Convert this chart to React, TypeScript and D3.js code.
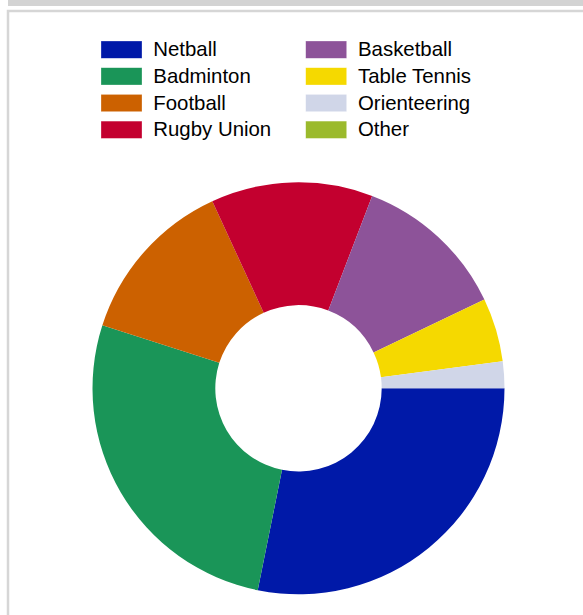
import React from "react";
import * as d3 from "d3";

const categories = ["Netball", "Badminton", "Football", "Rugby Union", "Basketball", "Table Tennis", "Orienteering", "Other"];
const values = [28.2, 26.8, 13.2, 12.7, 12.1, 5.0, 2.1, 0];
const colors = ["#0019a8", "#1a9558", "#cc6100", "#c3002f", "#8d5399", "#f5d900", "#d0d6e8", "#9bba2c"];

export default function App() {
  const W = 583, H = 615;
  const cx = 298.5, cy = 388.3, outerR = 206, innerR = 83.2;
  const pie = d3.pie<number>().sort(null).startAngle(Math.PI / 2).endAngle(Math.PI / 2 + 2 * Math.PI);
  const arcs = pie(values);
  const arc = d3.arc<d3.PieArcDatum<number>>().innerRadius(innerR).outerRadius(outerR);

  const legendX = [101, 305.7];
  const legendY0 = 41, rowH = 26.7;

  return (
    <svg width={W} height={H} style={{ position: "absolute", left: 0, top: 0, display: "block" }}>
      <rect x={0} y={0} width={W} height={H} fill="#ffffff" />
      <rect x={8} y={0} width={W - 8} height={6} fill="#d3d3d3" />
      <rect x={8} y={11} width={W + 10} height={H + 10} fill="#ffffff" stroke="#d6d6d6" strokeWidth={2.5} />
      <g transform={`translate(${cx},${cy})`}>
        {arcs.map((a, i) => (
          <path key={categories[i]} d={arc(a) || ""} fill={colors[i]} />
        ))}
      </g>
      <g fontFamily="'Liberation Sans', Arial, sans-serif" fontSize={20.4} fill="#000">
        {categories.map((c, i) => {
          const col = Math.floor(i / 4);
          const row = i % 4;
          const x = legendX[col];
          const y = legendY0 + row * rowH;
          return (
            <g key={c}>
              <rect x={x} y={y} width={41} height={17.3} fill={colors[i]} stroke="#ffffff" strokeOpacity={0.5} strokeWidth={0.6} />
              <text x={x + 52.3} y={y + 15.2}>{c}</text>
            </g>
          );
        })}
      </g>
    </svg>
  );
}
